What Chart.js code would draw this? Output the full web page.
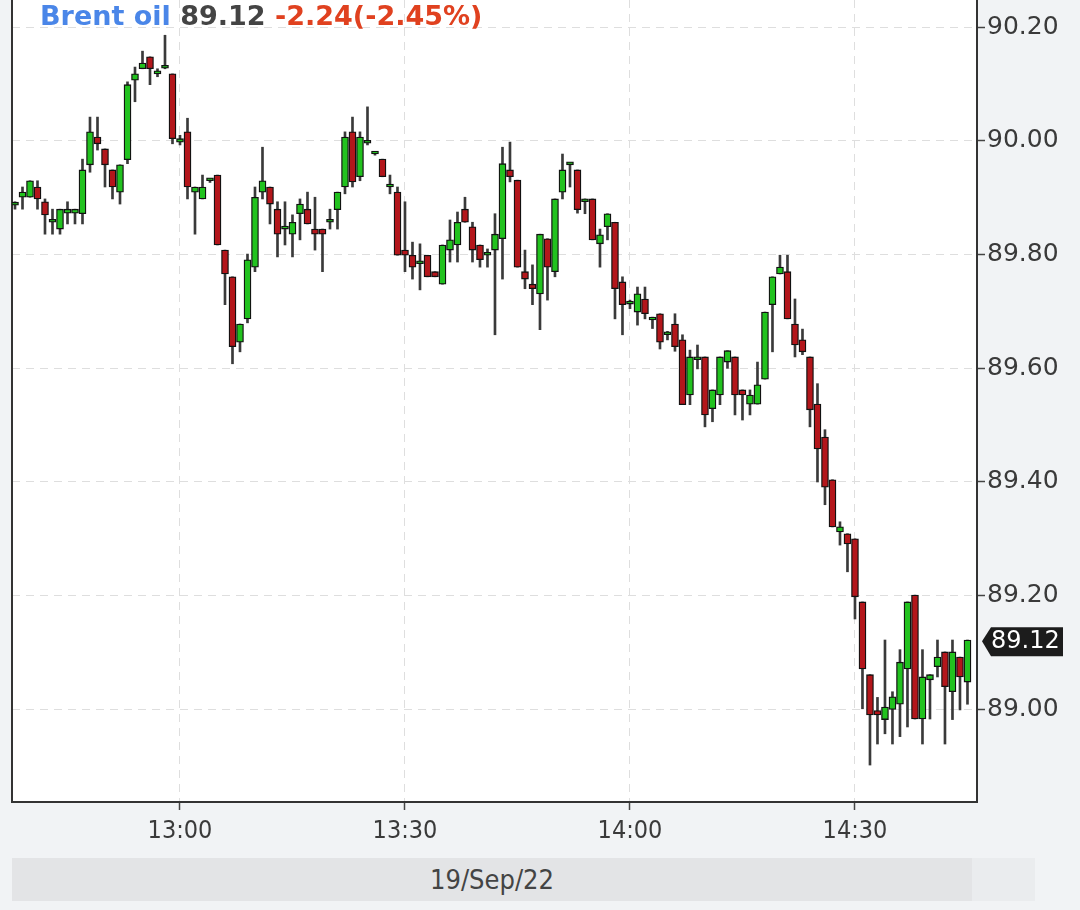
<!DOCTYPE html>
<html>
<head>
<meta charset="utf-8">
<script src="https://cdn.jsdelivr.net/npm/chart.js@4.4.0/dist/chart.umd.min.js"></script>
<style>
  body{margin:0;background:#f1f3f5;width:1080px;height:910px;overflow:hidden;position:relative;font-family:"DejaVu Sans",sans-serif;}
  #chart{position:absolute;left:0;top:0;}
  .head{position:absolute;left:40px;top:0px;font-weight:bold;font-size:27px;white-space:nowrap;}
  .head .name{color:#4a86e8;}
  .head .last{color:#444;}
  .head .chg{color:#e0411f;}
  .band{position:absolute;top:858px;left:12px;width:960px;height:43px;background:#e3e4e6;color:#444;
    font-family:"DejaVu Sans Condensed","DejaVu Sans",sans-serif;font-size:27px;line-height:43px;text-align:center;}
  .band2{position:absolute;top:858px;left:972px;width:63px;height:43px;background:#eaecee;}
</style>
</head>
<body>
<canvas id="chart" width="1080" height="910"></canvas>
<div class="head"><span class="name">Brent oil</span> <span class="last">89.12</span> <span class="chg">-2.24(-2.45%)</span></div>
<div class="band">19/Sep/22</div>
<div class="band2"></div>
<script>
// 1 minute candles, 19/Sep/22
const times=["12:38","12:39","12:40","12:41","12:42","12:43","12:44","12:45","12:46","12:47",
"12:48","12:49","12:50","12:51","12:52","12:53","12:54","12:55","12:56","12:57",
"12:58","12:59","13:00","13:01","13:02","13:03","13:04","13:05","13:06","13:07",
"13:08","13:09","13:10","13:11","13:12","13:13","13:14","13:15","13:16","13:17",
"13:18","13:19","13:20","13:21","13:22","13:23","13:24","13:25","13:26","13:27",
"13:28","13:29","13:30","13:31","13:32","13:33","13:34","13:35","13:36","13:37",
"13:38","13:39","13:40","13:41","13:42","13:43","13:44","13:45","13:46","13:47",
"13:48","13:49","13:50","13:51","13:52","13:53","13:54","13:55","13:56","13:57",
"13:58","13:59","14:00","14:01","14:02","14:03","14:04","14:05","14:06","14:07",
"14:08","14:09","14:10","14:11","14:12","14:13","14:14","14:15","14:16","14:17",
"14:18","14:19","14:20","14:21","14:22","14:23","14:24","14:25","14:26","14:27",
"14:28","14:29","14:30","14:31","14:32","14:33","14:34","14:35","14:36","14:37",
"14:38","14:39","14:40","14:41","14:42","14:43","14:44","14:45"];

const open=[89.887,89.901,89.901,89.919,89.893,89.857,89.845,89.873,89.873,89.872,
89.958,90.007,89.986,89.949,89.910,89.967,90.107,90.127,90.148,90.118,
90.128,90.118,89.998,90.016,89.910,89.898,89.930,89.940,89.808,89.761,
89.646,89.687,89.778,89.910,89.919,89.880,89.845,89.836,89.872,89.880,
89.845,89.845,89.857,89.879,89.919,90.016,89.937,89.996,89.977,89.968,
89.919,89.910,89.808,89.799,89.784,89.799,89.770,89.748,89.808,89.817,
89.880,89.849,89.817,89.799,89.808,89.828,89.949,89.931,89.770,89.748,
89.731,89.828,89.770,89.910,89.958,89.949,89.893,89.898,89.819,89.849,
89.857,89.752,89.713,89.699,89.722,89.685,89.696,89.659,89.678,89.650,
89.553,89.615,89.620,89.529,89.553,89.611,89.620,89.562,89.537,89.537,
89.581,89.712,89.766,89.770,89.678,89.650,89.620,89.537,89.479,89.404,
89.312,89.309,89.300,89.189,89.061,88.998,88.982,89.000,89.009,89.071,
89.201,88.983,89.052,89.075,89.101,89.031,89.092,89.048];
const high=[89.893,89.919,89.930,89.930,89.898,89.880,89.880,89.893,89.880,89.968,
90.042,90.042,89.986,89.949,89.958,90.104,90.130,90.158,90.148,90.127,
90.186,90.118,90.010,90.040,89.919,89.940,89.933,89.940,89.808,89.761,
89.678,89.801,89.919,89.989,89.919,89.893,89.893,89.870,89.898,89.910,
89.901,89.845,89.880,89.910,90.016,90.042,90.016,90.060,89.980,89.968,
89.940,89.919,89.893,89.822,89.819,89.799,89.770,89.817,89.861,89.875,
89.901,89.857,89.817,89.810,89.872,89.989,89.998,89.931,89.808,89.782,
89.836,89.828,89.898,89.977,89.960,89.949,89.898,89.898,89.845,89.872,
89.857,89.761,89.720,89.743,89.743,89.690,89.696,89.665,89.696,89.659,
89.632,89.641,89.620,89.562,89.620,89.631,89.620,89.562,89.562,89.611,
89.699,89.761,89.799,89.799,89.722,89.669,89.620,89.573,89.492,89.404,
89.330,89.309,89.300,89.189,89.061,89.021,89.122,89.031,89.105,89.189,
89.201,89.105,89.061,89.122,89.101,89.122,89.092,89.122];
const low=[89.880,89.880,89.901,89.880,89.836,89.836,89.836,89.854,89.854,89.854,
89.945,89.984,89.919,89.898,89.889,89.960,90.069,90.127,90.099,90.113,
90.127,89.995,89.993,89.898,89.836,89.898,89.927,89.817,89.712,89.608,
89.629,89.680,89.770,89.898,89.854,89.796,89.817,89.796,89.826,89.854,
89.808,89.770,89.845,89.845,89.907,89.919,89.930,89.993,89.975,89.937,
89.907,89.799,89.770,89.757,89.738,89.761,89.761,89.748,89.787,89.787,
89.857,89.787,89.778,89.778,89.659,89.757,89.928,89.778,89.740,89.712,
89.668,89.720,89.761,89.898,89.919,89.873,89.872,89.826,89.778,89.826,
89.687,89.659,89.705,89.676,89.687,89.670,89.634,89.650,89.630,89.536,
89.536,89.599,89.497,89.506,89.536,89.600,89.518,89.509,89.518,89.537,
89.581,89.629,89.766,89.687,89.620,89.624,89.497,89.400,89.360,89.321,
89.289,89.242,89.159,89.001,88.902,88.939,88.957,88.939,88.952,88.969,
88.983,88.939,88.983,89.057,88.939,88.982,88.999,89.009];
const close=[89.887,89.910,89.930,89.898,89.870,89.857,89.880,89.880,89.880,89.949,
90.016,89.995,89.958,89.919,89.958,90.099,90.118,90.137,90.127,90.118,
90.128,90.004,90.004,89.919,89.919,89.919,89.930,89.817,89.766,89.638,
89.678,89.791,89.901,89.930,89.889,89.836,89.845,89.857,89.889,89.854,
89.836,89.836,89.857,89.910,90.007,89.928,90.007,89.996,89.977,89.937,
89.919,89.799,89.799,89.778,89.784,89.761,89.761,89.817,89.826,89.857,
89.857,89.808,89.791,89.799,89.836,89.960,89.937,89.778,89.757,89.740,
89.836,89.778,89.898,89.949,89.958,89.879,89.893,89.826,89.835,89.872,
89.740,89.712,89.713,89.731,89.696,89.685,89.646,89.659,89.638,89.536,
89.620,89.615,89.518,89.562,89.620,89.631,89.553,89.553,89.553,89.571,
89.699,89.761,89.778,89.687,89.641,89.629,89.527,89.458,89.391,89.321,
89.321,89.291,89.198,89.071,88.990,88.990,89.004,89.022,89.083,89.189,
88.983,89.057,89.061,89.092,89.040,89.101,89.057,89.122];

const tickTimes=["13:00","13:30","14:00","14:30"];
const priceTicks=[89.00,89.20,89.40,89.60,89.80,90.00,90.20];
const lastPrice=89.12;

function toMin(t){
    let p=t.split(":");
    return parseInt(p[0])*60+parseInt(p[1]);
}
function toTime(m){
    let h=Math.floor(m/60);
    let mm=Math.round(m-h*60);
    return h+":"+(mm<10?"0"+mm:mm);
}

const upColor="#22c21f";
const downColor="#b3161b";

let wicks=[];
let bodies=[];
let bodyColors=[];
for(let i=0;i<times.length;i++){
    let x=toMin(times[i]);
    wicks.push({x:x,y:[low[i],high[i]]});
    bodies.push({x:x,y:[open[i],close[i]]});
    bodyColors.push(close[i]>=open[i]?upColor:downColor);
}

const firstMin=toMin(times[0]);
const lastMin=toMin(times[times.length-1]);

// white plot background + price tag
const plotBg={
    id:"plotBg",
    beforeDraw(chart){
        const a=chart.chartArea;
        const c=chart.ctx;
        c.save();
        c.fillStyle="#ffffff";
        c.fillRect(a.left,a.top,a.right-a.left,a.bottom-a.top);
        c.restore();
    },
    afterDraw(chart){
        const c=chart.ctx;
        const y=chart.scales.y.getPixelForValue(lastPrice);
        const x0=chart.chartArea.right+5;
        c.save();
        c.fillStyle="#1c1c1c";
        c.beginPath();
        c.moveTo(x0,y);
        c.lineTo(x0+9,y-14);
        c.lineTo(1063,y-14);
        c.lineTo(1063,y+15);
        c.lineTo(x0+9,y+15);
        c.closePath();
        c.fill();
        c.fillStyle="#ffffff";
        c.font="24px 'DejaVu Sans'";
        c.textBaseline="middle";
        c.textAlign="left";
        c.fillText(lastPrice.toFixed(2),x0+9,y+1);
        c.restore();
    }
};

function noPadY(s,w){
    s.width=w;
    s.paddingTop=0;
    s.paddingBottom=0;
}

let ctx=document.getElementById("chart").getContext("2d");

let candleChart=new Chart(ctx,{
    type:"bar",
    data:{
        datasets:[{
            data:wicks,
            backgroundColor:"#3a3a3a",
            barThickness:2,
            grouped:false,
            order:2
        },{
            data:bodies,
            backgroundColor:bodyColors,
            borderColor:"#111",
            borderWidth:1.3,
            borderSkipped:false,
            barThickness:7,
            minBarLength:3,
            grouped:false,
            order:1
        }]
    },
    plugins:[plotBg],
    options:{
        responsive:false,
        animation:false,
        devicePixelRatio:1,
        layout:{padding:0,autoPadding:false},
        plugins:{
            legend:{display:false},
            tooltip:{enabled:false}
        },
        scales:{
            x:{
                type:"linear",
                position:"bottom",
                offset:false,
                min:firstMin-0.4,
                max:lastMin+1.27,
                afterBuildTicks:(s)=>{s.ticks=tickTimes.map(t=>({value:toMin(t)}))},
                afterFit:(s)=>{s.height=108;s.paddingLeft=0;s.paddingRight=0},
                ticks:{
                    callback:(v)=>toTime(v),
                    color:"#3a3a3a",
                    font:{family:"DejaVu Sans Condensed",size:25},
                    padding:6,
                    maxRotation:0
                },
                grid:{
                    offset:false,
                    color:"#dedede",
                    tickColor:"#444",
                    tickBorderDash:[],
                    tickLength:8,
                    tickWidth:1.5
                },
                border:{display:true,color:"#333",width:2,dash:[8,6]}
            },
            y:{
                type:"linear",
                position:"right",
                min:88.837,
                max:90.248,
                afterBuildTicks:(s)=>{s.ticks=priceTicks.map(v=>({value:v}))},
                afterFit:(s)=>noPadY(s,103),
                ticks:{
                    callback:(v)=>v.toFixed(2),
                    color:"#3a3a3a",
                    font:{family:"DejaVu Sans",size:25},
                    padding:2
                },
                grid:{
                    color:"#dedede",
                    tickColor:"#444",
                    tickBorderDash:[],
                    tickLength:8,
                    tickWidth:1.5
                },
                border:{display:true,color:"#333",width:2,dash:[8,6]}
            },
            yl:{
                type:"linear",
                position:"left",
                min:88.837,
                max:90.248,
                afterFit:(s)=>noPadY(s,12),
                ticks:{display:false},
                grid:{drawOnChartArea:false,drawTicks:false},
                border:{display:true,color:"#333",width:2}
            }
        }
    }
});
</script>
</body>
</html>
